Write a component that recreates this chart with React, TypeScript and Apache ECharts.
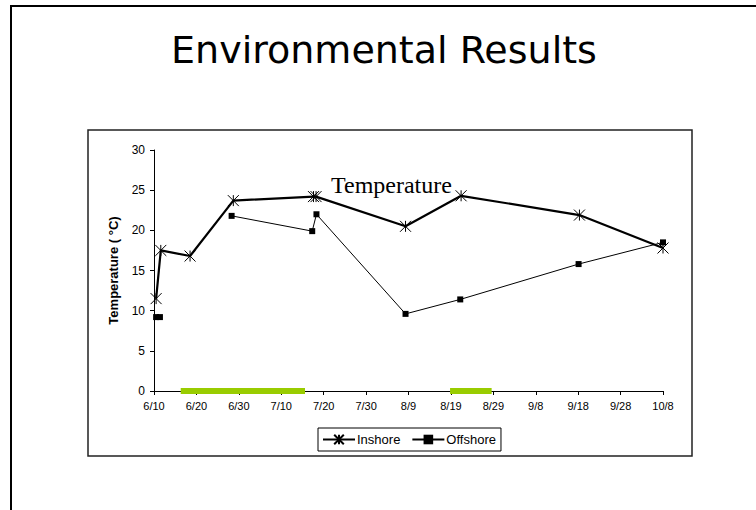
import React, { useEffect, useRef } from "react";
import * as echarts from "echarts";

// x values are days after 6/10
const xTickLabels = ["6/10", "6/20", "6/30", "7/10", "7/20", "7/30", "8/9", "8/19", "8/29", "9/8", "9/18", "9/28", "10/8"];
const yTicks = [0, 5, 10, 15, 20, 25, 30];

const inshoreDays = [0.5, 1.6, 8.5, 18.7, 37.6, 38.2, 59.3, 72.4, 100.3, 120];
const inshoreTemp = [11.5, 17.5, 16.8, 23.7, 24.2, 24.2, 20.5, 24.3, 21.9, 17.8];

const offshoreDays = [0.5, 1.4, 10, 18.3, 37.3, 38.3, 59.3, 72.2, 100.1, 120];
const offshoreTemp: (number | null)[] = [9.2, 9.2, null, 21.8, 19.9, 22.0, 9.6, 11.4, 15.8, 18.5];

const periodStart = [6.3, 69.8];
const periodEnd = [35.6, 79.6];

const seriesNames = ["Inshore", "Offshore"];

const ASTERISK = "path://M0,0L10,10M10,0L0,10M5,0L5,10";

export default function App() {
  const ref = useRef<HTMLDivElement>(null);
  useEffect(() => {
    if (!ref.current) return;
    const chart = echarts.init(ref.current, undefined, { renderer: "svg" });

    const inshoreData = inshoreDays.map((d, i) => [d, inshoreTemp[i]]);
    const offshoreData = offshoreDays.map((d, i) => [d, offshoreTemp[i] === null ? "-" : offshoreTemp[i]]);
    const periodData: any[] = [];
    periodStart.forEach((s, i) => {
      if (i > 0) periodData.push([(periodEnd[i - 1] + s) / 2, "-"]);
      periodData.push([s, 0]);
      periodData.push([periodEnd[i], 0]);
    });

    chart.setOption({
      animation: false,
      backgroundColor: "#fff",
      graphic: [
        { type: "line", shape: { x1: 10, y1: 6, x2: 756, y2: 6 }, style: { stroke: "#000", lineWidth: 2 } },
        { type: "line", shape: { x1: 11, y1: 5, x2: 11, y2: 510 }, style: { stroke: "#000", lineWidth: 2 } },
        {
          type: "rect",
          shape: { x: 88, y: 130, width: 604, height: 326 },
          style: { fill: "none", stroke: "#222", lineWidth: 1.5 },
          z: -1,
        },
        {
          type: "text",
          x: 384,
          y: 50,
          style: {
            text: "Environmental Results",
            font: "normal 38px 'DejaVu Sans'",
            fill: "#000",
            align: "center",
            verticalAlign: "middle",
            textShadowColor: "#8d9db5",
            textShadowOffsetX: 2,
            textShadowOffsetY: 2,
            textShadowBlur: 0,
          },
        },
        {
          type: "text",
          x: 331,
          y: 185,
          style: {
            text: "Temperature",
            font: "normal 24px 'Liberation Serif'",
            fill: "#000",
            align: "left",
            verticalAlign: "middle",
          },
        },
      ],
      grid: { left: 154, top: 150, right: 93, bottom: 119, containLabel: false },
      legend: {
        data: seriesNames,
        left: 318,
        top: 428,
        orient: "horizontal",
        borderColor: "#000",
        borderWidth: 1,
        padding: [5, 5, 5, 4],
        itemWidth: 32,
        itemHeight: 12,
        itemGap: 11,
        textStyle: { fontFamily: "Liberation Sans", fontSize: 13, color: "#000", padding: [0, 0, 0, -3] },
      },
      xAxis: {
        type: "value",
        min: 0,
        max: 120,
        interval: 10,
        axisLine: { lineStyle: { color: "#000", width: 1 } },
        axisTick: { show: true, length: 4, lineStyle: { color: "#000" } },
        splitLine: { show: false },
        axisLabel: {
          formatter: (v: number) => xTickLabels[Math.round(v / 10)] ?? "",
          fontFamily: "Liberation Sans",
          fontSize: 11,
          color: "#000",
          margin: 9,
        },
      },
      yAxis: {
        type: "value",
        min: yTicks[0],
        max: yTicks[yTicks.length - 1],
        interval: 5,
        name: "Temperature ( °C)",
        nameLocation: "middle",
        nameGap: 34,
        nameTextStyle: { fontFamily: "Liberation Sans", fontSize: 13, fontWeight: "bold", color: "#000" },
        axisLine: { show: true, lineStyle: { color: "#000", width: 1 } },
        axisTick: { show: true, length: 4, lineStyle: { color: "#000" } },
        splitLine: { show: false },
        axisLabel: { fontFamily: "Liberation Sans", fontSize: 12, color: "#000", margin: 9 },
      },
      series: [
        {
          name: "Period",
          type: "line",
          data: periodData,
          symbol: "none",
          silent: true,
          clip: false,
          lineStyle: { color: "#99cc00", width: 6 },
          z: 1,
        },
        {
          name: seriesNames[0],
          type: "line",
          data: inshoreData,
          symbol: ASTERISK,
          symbolSize: 11,
          clip: false,
          lineStyle: { color: "#000", width: 2.2 },
          itemStyle: { color: "#000", borderColor: "#000", borderWidth: 1 },
          z: 3,
        },
        {
          name: seriesNames[1],
          type: "line",
          data: offshoreData,
          symbol: "rect",
          symbolSize: 6,
          clip: false,
          connectNulls: false,
          lineStyle: { color: "#000", width: 1 },
          itemStyle: { color: "#000" },
          z: 3,
        },
      ],
    });
    return () => chart.dispose();
  }, []);
  return (
    <div
      ref={ref}
      style={{ position: "fixed", left: 0, top: 0, width: 756, height: 510, background: "#fff" }}
    />
  );
}
